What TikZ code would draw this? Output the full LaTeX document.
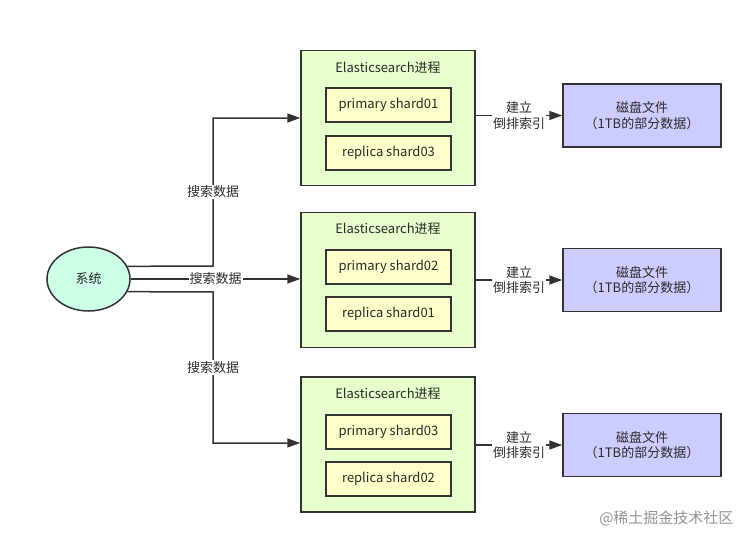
\documentclass[tikz,border=0pt]{standalone}
\usepackage{fontspec}
\setmainfont{Noto Sans CJK SC}
\usetikzlibrary{arrows.meta,shapes.geometric}
\definecolor{gfill}{HTML}{E6FFCC}
\definecolor{yfill}{HTML}{FFFFCC}
\definecolor{bfill}{HTML}{CCCCFF}
\definecolor{efill}{HTML}{CCFFE6}
\definecolor{ink}{HTML}{333333}
\definecolor{txt}{HTML}{2A2A2A}
\tikzset{
  every node/.style={font=\fontsize{13}{15.5}\selectfont, text=txt},
  esbox/.style={draw=ink, line width=1.5pt, fill=gfill, minimum width=174pt, minimum height=135pt, inner sep=0pt},
  shardbox/.style={draw=ink, line width=1.5pt, fill=yfill, minimum width=125pt, minimum height=34pt, inner sep=0pt},
  diskbox/.style={draw=ink, line width=1.5pt, fill=bfill, minimum width=158pt, minimum height=63pt, inner sep=0pt, align=center},
  sysnode/.style={ellipse, draw=ink, line width=1.5pt, fill=efill, minimum width=83pt, minimum height=64pt, inner sep=0pt},
  conn/.style={draw=ink, line width=1.5pt, -{Triangle[length=13pt,width=9pt]}},
  lbl/.style={fill=white, inner sep=1pt, align=center},
  wm/.style={font=\fontsize{15}{17}\selectfont, text=black!42}
}
\begin{document}
\begin{tikzpicture}[x=1pt,y=-1pt]
\useasboundingbox[fill=white] (0,0) rectangle (753,543);
% system
\node[sysnode] (sys) at (88.5,279) {系统};
% ES boxes
\node[esbox] (es1) at (388,118) {};
\node[esbox] (es2) at (388,280) {};
\node[esbox] (es3) at (388,444.5) {};
\node (t1) at (388,68) {Elasticsearch进程};
\node (t2) at (388,229) {Elasticsearch进程};
\node (t3) at (388,394) {Elasticsearch进程};
\node[shardbox] (p1) at (388.5,105) {primary shard01};
\node[shardbox] (r1) at (388.5,153) {replica shard03};
\node[shardbox] (p2) at (388.5,267) {primary shard02};
\node[shardbox] (r2) at (388.5,314) {replica shard01};
\node[shardbox] (p3) at (388.5,432) {primary shard03};
\node[shardbox] (r3) at (388.5,479) {replica shard02};
% disks
\node[diskbox] (d1) at (642,115.5) {磁盘文件\\（1TB的部分数据）};
\node[diskbox] (d2) at (642,280) {磁盘文件\\（1TB的部分数据）};
\node[diskbox] (d3) at (642,445) {磁盘文件\\（1TB的部分数据）};
% ES -> disk
\draw[conn] (es1.east |- d1) -- node[lbl] {建立\\倒排索引} (d1.west);
\draw[conn] (es2.east |- d2) -- node[lbl] {建立\\倒排索引} (d2.west);
\draw[conn] (es3.east |- d3) -- node[lbl] {建立\\倒排索引} (d3.west);
% system -> ES
\coordinate (k1) at (213,266);
\coordinate (k2) at (213,118);
\coordinate (k3) at (213,292);
\coordinate (k4) at (213,443);
\draw[conn] (sys.18.9) -- (k1) -- node[lbl, pos=0.5] {搜索数据} (k2) -- (es1.west |- k2);
\draw[conn] (sys.east |- 0,279) -- node[lbl, pos=0.5] {搜索数据} (es2.west |- 0,279);
\draw[conn] (sys.-18.9) -- (k3) -- node[lbl, pos=0.5] {搜索数据} (k4) -- (es3.west |- k4);
% watermark
\node[wm, anchor=east] (wm) at (737,518) {@稀土掘金技术社区};
\end{tikzpicture}
\end{document}
